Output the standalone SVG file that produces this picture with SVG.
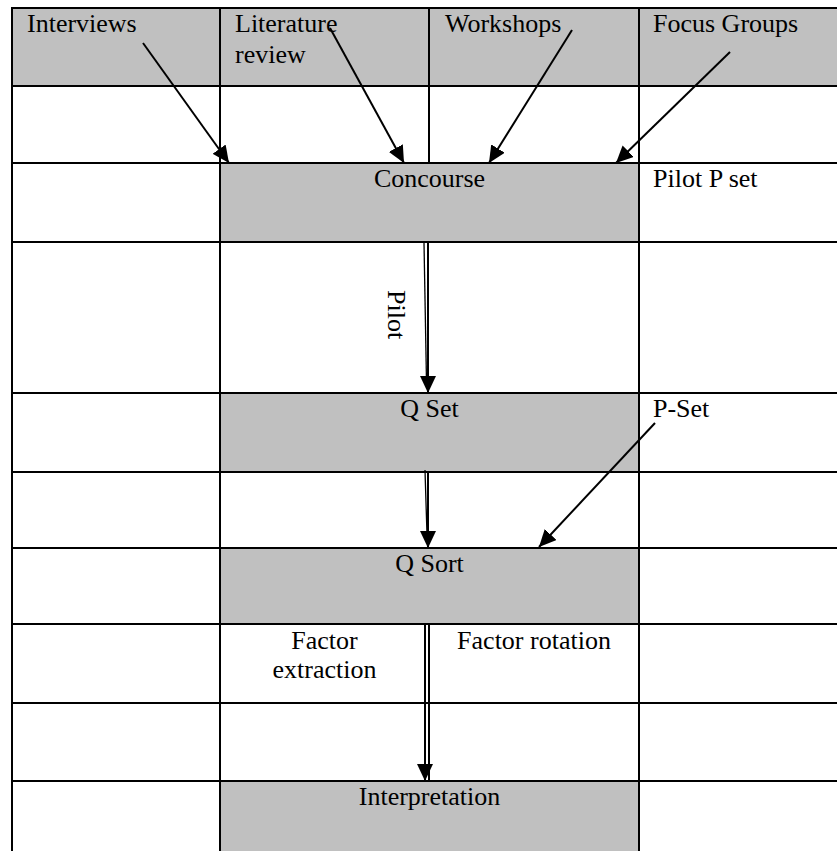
<svg xmlns="http://www.w3.org/2000/svg" width="837" height="851" viewBox="0 0 837 851">
  <style>
    .t { font-family: "Liberation Serif", "Times New Roman", serif; font-size: 26px; fill: #000; }
    .c { text-anchor: middle; }
    .grid line { stroke: #000; stroke-width: 2; }
    .gray { fill: #c0c0c0; }
    .conn line { stroke: #000; stroke-width: 2; fill: none; }
    .conn line.thin { stroke-width: 1.3; }
  </style>
  <defs>
    <marker id="ah" markerUnits="userSpaceOnUse" markerWidth="18" markerHeight="16" viewBox="0 0 18 16" refX="17" refY="8" orient="auto">
      <path d="M0,0 L17,8 L0,16 Z" fill="#000"/>
    </marker>
  </defs>
  <rect width="837" height="851" fill="#fff"/>

  <g id="shading">
    <rect class="gray" x="12" y="8" width="825" height="78"/>
    <rect class="gray" x="220" y="163" width="419" height="79"/>
    <rect class="gray" x="220" y="393" width="419" height="79"/>
    <rect class="gray" x="220" y="548" width="419" height="76"/>
    <rect class="gray" x="220" y="781" width="419" height="70"/>
  </g>

  <g id="grid" class="grid">
    <line x1="11" y1="8" x2="837" y2="8"/>
    <line x1="12" y1="86" x2="837" y2="86"/>
    <line x1="12" y1="163" x2="837" y2="163"/>
    <line x1="12" y1="242" x2="837" y2="242"/>
    <line x1="12" y1="393" x2="837" y2="393"/>
    <line x1="12" y1="472" x2="837" y2="472"/>
    <line x1="12" y1="548" x2="837" y2="548"/>
    <line x1="12" y1="624" x2="837" y2="624"/>
    <line x1="12" y1="703" x2="837" y2="703"/>
    <line x1="12" y1="781" x2="837" y2="781"/>
    <line x1="12" y1="7" x2="12" y2="851"/>
    <line x1="220" y1="7" x2="220" y2="851"/>
    <line x1="639" y1="7" x2="639" y2="851"/>
    <line x1="429" y1="7" x2="429" y2="163"/>
    <line x1="429" y1="624" x2="429" y2="781"/>
  </g>

  <g id="n-interviews"><text class="t" x="27" y="32">Interviews</text></g>
  <g id="n-literature"><text class="t" x="235" y="32">Literature</text><text class="t" x="235" y="63">review</text></g>
  <g id="n-workshops"><text class="t" x="445" y="32">Workshops</text></g>
  <g id="n-focus"><text class="t" x="653" y="32">Focus Groups</text></g>
  <g id="n-concourse"><text class="t c" x="429.5" y="187">Concourse</text></g>
  <g id="n-pilotpset"><text class="t" x="653" y="187">Pilot P set</text></g>
  <g id="n-qset"><text class="t c" x="429.5" y="417">Q Set</text></g>
  <g id="n-pset"><text class="t" x="653" y="417">P-Set</text></g>
  <g id="n-qsort"><text class="t c" x="429.5" y="572">Q Sort</text></g>
  <g id="n-fextraction"><text class="t c" x="324.5" y="649">Factor</text><text class="t c" x="324.5" y="678">extraction</text></g>
  <g id="n-frotation"><text class="t c" x="534" y="649">Factor rotation</text></g>
  <g id="n-interpretation"><text class="t c" x="429.5" y="805">Interpretation</text></g>

  <g id="connectors" class="conn">
    <line x1="143" y1="43" x2="229" y2="163" marker-end="url(#ah)"/>
    <line x1="330" y1="28" x2="404" y2="163" marker-end="url(#ah)"/>
    <line x1="572" y1="30" x2="489" y2="163" marker-end="url(#ah)"/>
    <line x1="730" y1="52" x2="616" y2="163" marker-end="url(#ah)"/>
    <line x1="655" y1="423" x2="539" y2="547" marker-end="url(#ah)"/>
    <line class="thin" x1="424" y1="243" x2="426.5" y2="382"/>
    <line x1="428" y1="243" x2="428" y2="393" marker-end="url(#ah)"/>
    <line class="thin" x1="425" y1="470" x2="427" y2="535"/>
    <line x1="428" y1="471" x2="428" y2="548" marker-end="url(#ah)"/>
    <line x1="425" y1="625" x2="425" y2="781" marker-end="url(#ah)"/>
  </g>
  <g id="pilot-label"><text class="t" transform="translate(388,290) rotate(90)">Pilot</text></g>
</svg>
